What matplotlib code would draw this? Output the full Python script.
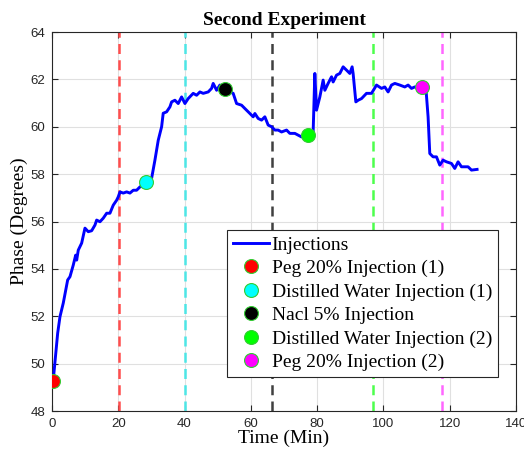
import matplotlib.pyplot as plt

# traced phase curve (time in min, phase in degrees)
time_min = [0.39, 1.72, 2.41, 3.41, 4.73, 5.43, 6.42, 7.15, 7.45, 7.93, 8.96, 9.95,
            10.95, 11.97, 12.97, 13.48, 14.48, 15.47, 16.50, 17.49, 18.49, 19.51, 19.99,
            20.51, 21.50, 22.53, 23.52, 24.52, 25.54, 26.54, 28.4, 30.07, 31.06, 32.06,
            33.08, 33.56, 34.59, 35.59, 36.10, 37.09, 38.09, 39.11, 40.11, 41.10, 42.61,
            43.64, 44.63, 45.63, 47.14, 48.16, 48.64, 49.67, 50.66, 52.17, 54.67, 55.70,
            57.21, 58.20, 59.71, 60.71, 61.22, 62.21, 63.24, 64.23, 65.23, 66.26, 67.25,
            68.24, 69.27, 70.78, 71.77, 73.28, 75.30, 77.29, 78.80, 79.31, 79.82, 80.82,
            81.82, 82.33, 83.32, 84.35, 84.83, 85.86, 86.85, 87.85, 88.87, 89.87, 90.56,
            90.86, 91.68, 92.37, 93.40, 94.90, 96.41, 97.92, 99.43, 100.42, 101.42, 102.44,
            103.44, 104.95, 106.45, 107.45, 108.47, 109.47, 111.49, 112.79, 113.48, 113.99,
            114.99, 116.01, 117.01, 118.00, 119.03, 120.54, 121.53, 122.53, 123.55, 124.55,
            125.54, 126.57, 128.26]
phase = [49.31, 51.29, 51.98, 52.56, 53.53, 53.67, 54.16, 54.58, 54.37, 54.79, 55.09, 55.72,
         55.57, 55.61, 55.85, 56.06, 55.99, 56.14, 56.35, 56.35, 56.69, 56.90, 57.04,
         57.25, 57.20, 57.25, 57.20, 57.32, 57.32, 57.46, 57.62, 57.83, 58.59, 59.43,
         60.00, 60.57, 60.63, 60.84, 61.05, 61.12, 60.98, 61.26, 60.98, 61.19, 61.41,
         61.33, 61.47, 61.41, 61.47, 61.62, 61.83, 61.54, 61.76, 61.57, 61.41, 60.98,
         60.91, 60.77, 60.56, 60.42, 60.56, 60.35, 60.28, 60.42, 60.07, 60.00, 59.86,
         59.86, 59.78, 59.86, 59.72, 59.72, 59.57, 59.65, 59.78, 62.25, 60.70, 61.26,
         61.97, 61.54, 61.83, 62.11, 61.89, 62.18, 62.25, 62.53, 62.39, 62.25, 62.53,
         62.25, 61.05, 61.12, 61.19, 61.41, 61.41, 61.76, 61.62, 61.68, 61.47, 61.76,
         61.83, 61.76, 61.68, 61.76, 61.62, 61.68, 61.68, 61.68, 60.42, 58.87,
         58.73, 58.73, 58.38, 58.59, 58.52, 58.45, 58.24, 58.52, 58.31, 58.31,
         58.31, 58.17, 58.20]

# injection events
inj_labels = ['Peg 20% Injection (1)', 'Distilled Water Injection (1)', 'Nacl 5% Injection',
              'Distilled Water Injection (2)', 'Peg 20% Injection (2)']
inj_colors = ['red', 'cyan', 'black', 'lime', 'magenta']
inj_x = [0.4, 28.5, 52.2, 77.3, 111.6]
inj_y = [49.28, 57.65, 61.58, 59.65, 61.68]
line_x = [20.2, 40.0, 66.3, 96.8, 117.6]
line_colors = ['#ff4d4d', '#4de6e6', '#404040', '#4dff4d', '#ff66ff']

fig = plt.figure(figsize=(5.24, 4.54), dpi=100)
ax = fig.add_axes([0.0992, 0.0947, 0.8855, 0.8348])

for xv, c in zip(line_x, line_colors):
    ax.axvline(xv, color=c, ls=(0, (4, 2.5)), lw=1.8, zorder=2)

ax.plot(time_min, phase, color='blue', lw=2.1, label='Injections', zorder=3)
for xv, yv, c, lab in zip(inj_x, inj_y, inj_colors, inj_labels):
    ax.plot(xv, yv, 'o', ms=10, mfc=c, mec='#33cc33', mew=0.8, ls='none',
            label=lab, zorder=4)

ax.set_xlim(0, 140)
ax.set_ylim(48, 64)
ax.set_xticks(range(0, 141, 20))
ax.set_yticks(range(48, 65, 2))
ax.grid(True, color='#e0e0e0', lw=0.8)
ax.set_axisbelow(True)
ax.tick_params(direction='in', top=True, right=True, labelsize=9.5,
               labelcolor='#262626', color='#262626', length=4, pad=5)
for lbl in ax.get_xticklabels() + ax.get_yticklabels():
    lbl.set_family('Liberation Sans')
for sp in ax.spines.values():
    sp.set_color('#262626')
    sp.set_linewidth(0.8)

ax.set_xlabel('Time (Min)', family='Liberation Serif', fontsize=14, labelpad=0)
ax.set_ylabel('Phase (Degrees)', family='Liberation Serif', fontsize=14, labelpad=2)
ax.set_title('Second Experiment', family='Liberation Serif', fontsize=14,
             fontweight='bold', pad=5)

leg = ax.legend(loc='lower right', bbox_to_anchor=(0.961, 0.09),
                prop={'family': 'Liberation Serif', 'size': 14},
                fancybox=False, edgecolor='#262626', framealpha=1,
                handlelength=1.85, handletextpad=0.15, borderpad=0.3,
                labelspacing=0.3, borderaxespad=0)
leg.get_frame().set_linewidth(0.8)
leg.set_zorder(10)

fig.savefig('out.png', dpi=100)
